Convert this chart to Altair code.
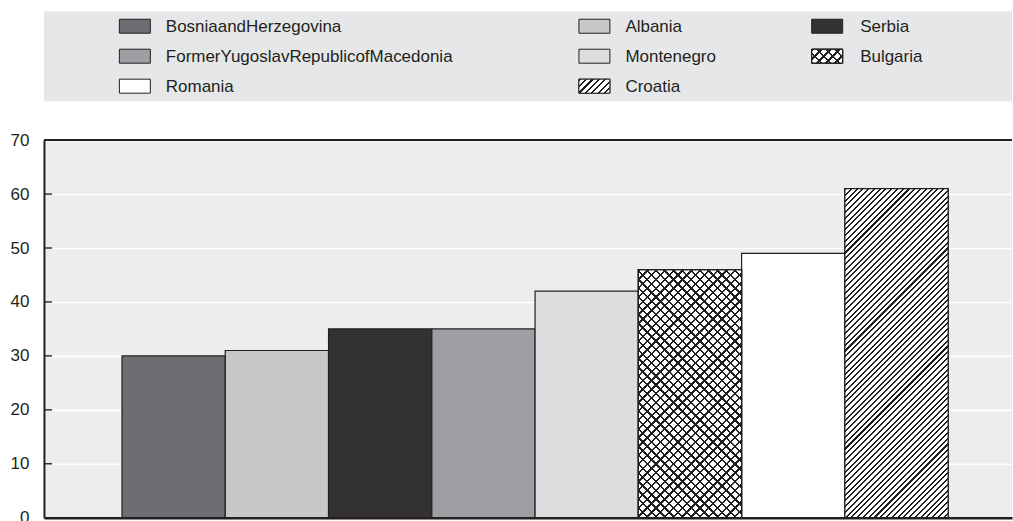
import math

import altair as alt
import pandas as pd

# ---- data -------------------------------------------------------------
countries = ["BosniaandHerzegovina", "Albania", "Serbia",
             "FormerYugoslavRepublicofMacedonia", "Montenegro",
             "Bulgaria", "Romania", "Croatia"]
values = [30, 31, 35, 35, 42, 46, 49, 61]
bar_colors = ["#6d6e71", "#c7c8ca", "#333132", "#9d9fa2", "#dcdddf",
              "#ffffff", "#ffffff", "#ffffff"]
# legend entries, filled column by column (3 rows per column)
legend_order = ["BosniaandHerzegovina", "FormerYugoslavRepublicofMacedonia",
                "Romania", "Albania", "Montenegro", "Croatia",
                "Serbia", "Bulgaria"]
y_ticks = [0, 10, 20, 30, 40, 50, 60, 70]
inner_ticks = [10, 20, 30, 40, 50, 60]

# ---- layout / style ---------------------------------------------------
INK = "#231f20"
FONT = "Liberation Sans"
FONT_SIZE = 17
PLOT_W, PLOT_H = 969, 378
LEG_H = 90
Y_MAX = 70
PAD_OUTER, ALIGN = 0.687, 0.55
STEP = PLOT_W / (len(countries) + 2 * PAD_OUTER)
PX_PER_UNIT = PLOT_H / Y_MAX
SWATCH_CX = [91, 551, 784]
TEXT_X = [122, 582, 817]
SWATCH_W, SWATCH_H = 31, 14
SWATCH_PATH = "M-1,-{h}H1V{h}H-1Z".format(h=round(SWATCH_H / SWATCH_W, 4))


def hatch(w, h, spacing, frac, line, bg, direction):
    """Linear gradient with hard stops that reads as 45-degree hatching
    on a w x h box (gradient coordinates are in bounding-box units)."""
    k = (w + h) / (w * w + h * h)
    a, b = k * w, k * h
    n = max(1, round((w + h) / (math.sqrt(2) * spacing)))
    stops = []
    for i in range(n):
        t0, t1, t2 = i / n, (i + frac) / n, (i + 1) / n
        stops += [{"offset": round(t0, 5), "color": line},
                  {"offset": round(t1, 5), "color": line},
                  {"offset": round(t1, 5), "color": bg},
                  {"offset": round(t2, 5), "color": bg}]
    if direction == "/":
        return {"gradient": "linear", "x1": 0, "y1": 0,
                "x2": round(a, 5), "y2": round(b, 5), "stops": stops}
    return {"gradient": "linear", "x1": 0, "y1": 1,
            "x2": round(a, 5), "y2": round(1 - b, 5), "stops": stops}


CLEAR = "rgba(255,255,255,0)"
val = dict(zip(countries, values))

# ---- main bar chart ---------------------------------------------------
bars_df = pd.DataFrame({"country": countries, "value": values})
ticks_df = pd.DataFrame({"value": inner_ticks})
top_df = pd.DataFrame({"value": [Y_MAX]})

x_scale = alt.Scale(domain=countries, paddingInner=0,
                    paddingOuter=PAD_OUTER, align=ALIGN)
x_enc = alt.X("country:N", scale=x_scale,
              axis=alt.Axis(labels=False, ticks=False, title=None, grid=False,
                            domainColor=INK, domainWidth=2.5, zindex=1))
y_axis = alt.Axis(values=y_ticks, title=None, ticks=False, grid=True,
                  gridColor="#ffffff", gridWidth=1.6, domainColor=INK,
                  domainWidth=2, labelFont=FONT, labelFontSize=FONT_SIZE,
                  labelColor=INK, labelPadding=15, minExtent=44, maxExtent=44)
y_enc = alt.Y("value:Q", scale=alt.Scale(domain=[0, Y_MAX], nice=False),
              axis=y_axis)
fill_scale = alt.Scale(domain=countries, range=bar_colors)

base_bars = alt.Chart(bars_df).mark_bar(stroke=INK, strokeWidth=1.2).encode(
    x=x_enc, y=y_enc,
    fill=alt.Fill("country:N", scale=fill_scale, legend=None),
)


def hatched_bar(name, grad):
    return alt.Chart(bars_df).transform_filter(
        alt.datum.country == name
    ).mark_bar(fill=grad, stroke=INK, strokeWidth=1.2).encode(x=x_enc, y=y_enc)


cro_h = val["Croatia"] * PX_PER_UNIT
bul_h = val["Bulgaria"] * PX_PER_UNIT
croatia = hatched_bar("Croatia", hatch(STEP, cro_h, 4.1, 0.36, INK, "#ffffff", "/"))
bulgaria_a = hatched_bar("Bulgaria", hatch(STEP, bul_h, 6.2, 0.27, INK, "#ffffff", "/"))
bulgaria_b = hatched_bar("Bulgaria", hatch(STEP, bul_h, 6.2, 0.27, INK, CLEAR, "\\"))

inner_tick_marks = alt.Chart(ticks_df).mark_rule(color=INK, strokeWidth=1.4).encode(
    x=alt.value(0), x2=alt.value(8), y=y_enc)
top_frame = alt.Chart(top_df).mark_rule(color=INK, strokeWidth=2).encode(y=y_enc)

main = alt.layer(base_bars, croatia, bulgaria_a, bulgaria_b,
                 inner_tick_marks, top_frame).properties(
    width=PLOT_W, height=PLOT_H,
    view=alt.ViewBackground(fill="#ededed", stroke="transparent"),
)

# ---- legend panel -----------------------------------------------------
legend_df = pd.DataFrame({
    "name": legend_order,
    "col": [i // 3 for i in range(len(legend_order))],
    "row": [i % 3 for i in range(len(legend_order))],
})
row_enc = alt.Y("row:Q", axis=None,
                scale=alt.Scale(domain=[-0.5, 2.5], reverse=True,
                                nice=False, zero=False))
legend_layers = []
for c in range(3):
    part = alt.Chart(legend_df).transform_filter(alt.datum.col == c)
    legend_layers.append(part.mark_point(
        shape=SWATCH_PATH, size=SWATCH_W ** 2, filled=True, opacity=1,
        stroke=INK, strokeWidth=1,
    ).encode(x=alt.value(SWATCH_CX[c]), y=row_enc,
             fill=alt.Fill("name:N", scale=fill_scale, legend=None)))
    legend_layers.append(part.mark_text(
        align="left", baseline="middle", font=FONT, fontSize=FONT_SIZE,
        color=INK, dy=1,
    ).encode(x=alt.value(TEXT_X[c]), y=row_enc, text="name:N"))


def hatched_swatch(name, grad):
    c = legend_order.index(name) // 3
    return alt.Chart(legend_df).transform_filter(
        alt.datum.name == name
    ).mark_point(shape=SWATCH_PATH, size=SWATCH_W ** 2, filled=True,
                 opacity=1, fill=grad, stroke=INK, strokeWidth=1).encode(
        x=alt.value(SWATCH_CX[c]), y=row_enc)


legend_layers += [
    hatched_swatch("Croatia", hatch(SWATCH_W, SWATCH_H, 4.4, 0.34, INK, "#ffffff", "/")),
    hatched_swatch("Bulgaria", hatch(SWATCH_W, SWATCH_H, 6.0, 0.27, INK, "#ffffff", "/")),
    hatched_swatch("Bulgaria", hatch(SWATCH_W, SWATCH_H, 6.0, 0.27, INK, CLEAR, "\\")),
]

legend = alt.layer(*legend_layers).properties(
    width=PLOT_W, height=LEG_H,
    view=alt.ViewBackground(fill="#e6e7e8", stroke="transparent"),
)

chart = alt.vconcat(legend, main, spacing=39, bounds="flush").properties(
    padding={"left": 0, "top": 11, "right": 0, "bottom": 0},
    background="#ffffff",
).configure_view(strokeWidth=0)

chart.save("out.html", embed_options={"renderer": "svg", "actions": False})
